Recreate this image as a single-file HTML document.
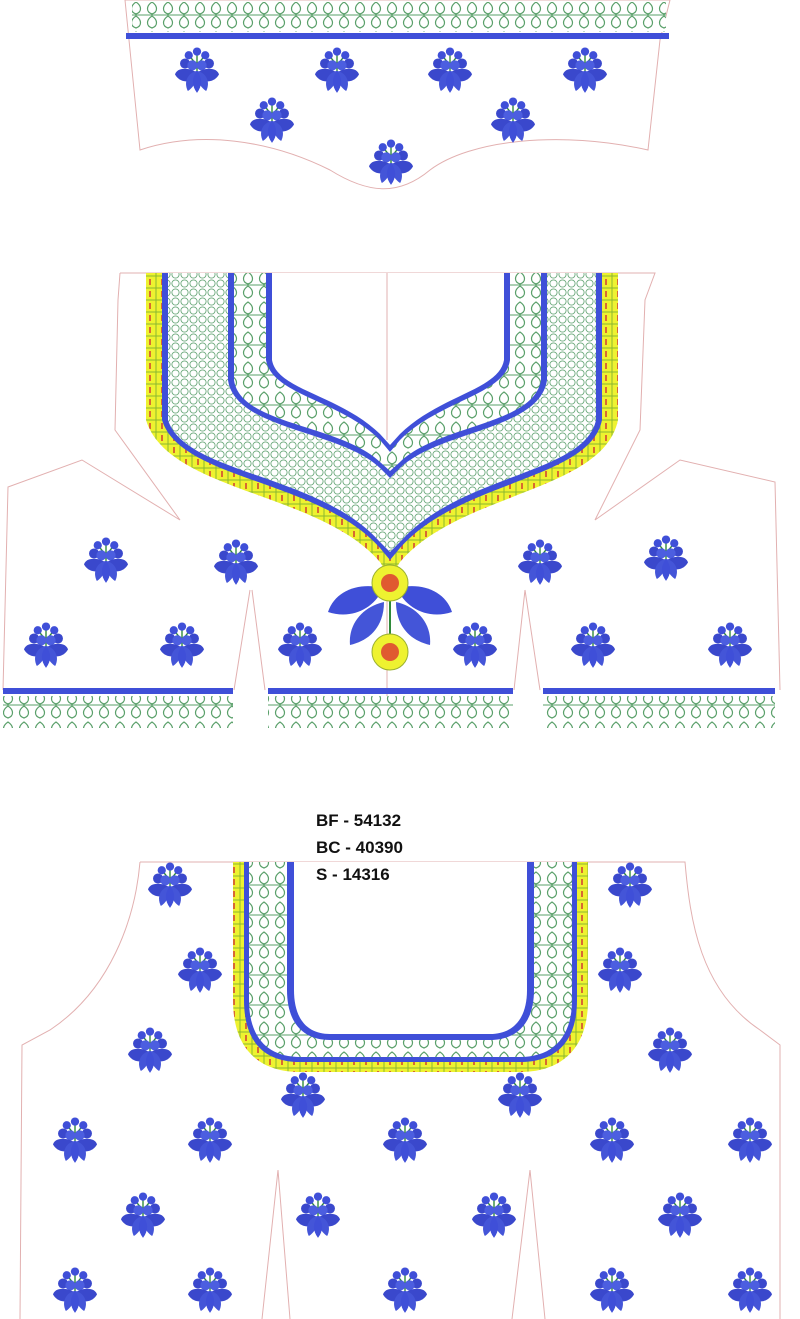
<!DOCTYPE html>
<html><head><meta charset="utf-8"><style>
html,body{margin:0;padding:0;background:#fff;width:800px;height:1319px;overflow:hidden}
svg{display:block}
.t{font-family:"Liberation Sans",sans-serif;font-weight:bold;font-size:17px;fill:#111}
</style></head><body>
<svg width="800" height="1319" viewBox="0 0 800 1319" xmlns="http://www.w3.org/2000/svg">
<defs>
<symbol id="m" viewBox="-24 -26 48 52" overflow="visible">
  <path d="M0 -4 L0 8 M0 -4 L-8 -14 M0 -4 L8 -14 M0 -4 L0 -16" stroke="#2f8a3a" stroke-width="1.5" fill="none"/>
  <circle cx="0" cy="-19" r="4.5" fill="#3f4fd8"/>
  <circle cx="-9" cy="-15" r="4.5" fill="#3f4fd8"/>
  <circle cx="9" cy="-15" r="4.5" fill="#3f4fd8"/>
  <circle cx="-13" cy="-6" r="5.5" fill="#3a48cc"/>
  <circle cx="13" cy="-6" r="5.5" fill="#3a48cc"/>
  <circle cx="-5" cy="-4" r="5.5" fill="#4c5ee0"/>
  <circle cx="5" cy="-4" r="5.5" fill="#4c5ee0"/>
  <path d="M0 4 C-8 -2 -22 -2 -24 6 C-18 16 -8 14 0 12 Z" fill="#3a48cc"/>
  <path d="M0 4 C8 -2 22 -2 24 6 C18 16 8 14 0 12 Z" fill="#3a48cc"/>
  <path d="M0 2 C-10 4 -15 14 -10 24 C-4 20 0 14 0 2 Z" fill="#4455d8"/>
  <path d="M0 2 C10 4 15 14 10 24 C4 20 0 14 0 2 Z" fill="#4455d8"/>
  <path d="M0 2 C-6 10 -6 18 0 26 C6 18 6 10 0 2 Z" fill="#3f4fd8"/>
</symbol>
<pattern id="leaf" width="16" height="30" patternUnits="userSpaceOnUse">
  <rect width="16" height="30" fill="#fff"/>
  <path d="M8 2 C2 6 2 12 8 14 C14 12 14 6 8 2Z M8 16 C2 20 2 26 8 28 C14 26 14 20 8 16Z" fill="none" stroke="#5aa06a" stroke-width="1.2"/>
  <line x1="0" y1="15" x2="16" y2="15" stroke="#5aa06a" stroke-width="1"/>
</pattern>
<pattern id="circ" width="9" height="9" patternUnits="userSpaceOnUse">
  <rect width="9" height="9" fill="#fff"/>
  <circle cx="4.5" cy="4.5" r="3.6" fill="none" stroke="#6aa87a" stroke-width="0.9"/>
</pattern>
<pattern id="scal" width="12" height="12" patternUnits="userSpaceOnUse">
  <rect width="12" height="12" fill="#eef230"/>
  <rect x="5" y="3" width="2" height="6" fill="#d86a30"/>
  <rect width="12" height="12" fill="none" stroke="#8ab830" stroke-width="1"/>
</pattern>
</defs>

<!-- TOP PIECE -->
<path d="M125 0 L670 0 L660 40 L648 150 C560 130 470 140 430 170 C400 195 370 195 330 170 C270 140 200 130 140 150 Z" fill="#fff" stroke="#e2b0b0" stroke-width="1"/>
<rect x="132" y="2" width="534" height="30" fill="url(#leaf)"/>
<rect x="126" y="33" width="543" height="6" fill="#3f4fd8"/>
<g>
<use href="#m" x="175" y="44" width="44" height="50"/>
<use href="#m" x="315" y="44" width="44" height="50"/>
<use href="#m" x="428" y="44" width="44" height="50"/>
<use href="#m" x="563" y="44" width="44" height="50"/>
<use href="#m" x="250" y="94" width="44" height="50"/>
<use href="#m" x="491" y="94" width="44" height="50"/>
<use href="#m" x="369" y="136" width="44" height="50"/>
</g>

<!-- MIDDLE PIECE outlines -->
<g fill="none" stroke="#e2b0b0" stroke-width="1">
<path d="M120 273 L655 273 L645 300 L640 430 L595 520 L680 460 L775 482 L780 690"/>
<path d="M120 273 L118 300 L115 430 L180 520 L82 460 L8 487 L3 690"/>
<path d="M387 273 L387 728"/>
<path d="M250 590 L234 690 M265 690 L252 590"/>
<path d="M525 590 L540 690 M525 590 L514 690"/>
</g>
<path d="M146 273 L618 273 L618 420 C603 492 460 492 400 562 L390 578 L380 562 C320 492 168 492 146 420 Z" fill="url(#scal)"/>
<path d="M162 273 L602 273 L602 420 C590 480 460 480 400 548 L390 560 L380 548 C320 480 180 480 162 420 Z" fill="#3f4fd8"/>
<path d="M168 273 L596 273 L596 420 C585 474 460 474 400 542 L390 552 L380 542 C320 474 185 474 168 420 Z" fill="url(#circ)"/>
<path d="M228 273 L547 273 L547 380 C540 430 440 430 400 468 L390 478 L380 468 C340 430 235 430 228 380 Z" fill="#3f4fd8"/>
<path d="M234 273 L541 273 L541 380 C534 425 440 424 400 462 L390 471 L380 462 C340 424 240 425 234 380 Z" fill="url(#leaf)"/>
<path d="M266 273 L510 273 L510 360 C505 395 440 400 400 440 L390 452 L380 440 C340 400 272 395 266 360 Z" fill="#3f4fd8"/>
<path d="M272 273 L504 273 L504 360 C499 390 440 395 400 434 L390 445 L380 434 C340 395 277 390 272 360 Z" fill="#fff"/>
<line x1="387" y1="273" x2="387" y2="440" stroke="#e2b0b0"/>
<!-- pendant -->
<path d="M383 588 C360 582 335 590 328 612 C352 620 375 608 383 588Z" fill="#3f4fd8"/>
<path d="M397 588 C420 582 445 590 452 612 C428 620 405 608 397 588Z" fill="#3f4fd8"/>
<path d="M384 602 C365 606 348 622 350 645 C372 640 384 624 384 602Z" fill="#4455d8"/>
<path d="M396 602 C415 606 432 622 430 645 C408 640 396 624 396 602Z" fill="#4455d8"/>
<line x1="390" y1="590" x2="390" y2="640" stroke="#2f8a3a" stroke-width="2"/>
<circle cx="390" cy="583" r="18" fill="#eef230" stroke="#9ab030"/>
<circle cx="390" cy="583" r="9" fill="#e05a30"/>
<circle cx="390" cy="652" r="18" fill="#eef230" stroke="#9ab030"/>
<circle cx="390" cy="652" r="9" fill="#e05a30"/>
<rect x="3" y="688" width="230" height="6" fill="#3f4fd8"/>
<rect x="268" y="688" width="245" height="6" fill="#3f4fd8"/>
<rect x="543" y="688" width="232" height="6" fill="#3f4fd8"/>
<rect x="3" y="696" width="230" height="32" fill="url(#leaf)"/>
<rect x="268" y="696" width="245" height="32" fill="url(#leaf)"/>
<rect x="543" y="696" width="232" height="32" fill="url(#leaf)"/>
<g>
<use href="#m" x="84" y="534" width="44" height="50"/>
<use href="#m" x="214" y="536" width="44" height="50"/>
<use href="#m" x="518" y="536" width="44" height="50"/>
<use href="#m" x="644" y="532" width="44" height="50"/>
<use href="#m" x="24" y="619" width="44" height="50"/>
<use href="#m" x="160" y="619" width="44" height="50"/>
<use href="#m" x="278" y="619" width="44" height="50"/>
<use href="#m" x="453" y="619" width="44" height="50"/>
<use href="#m" x="571" y="619" width="44" height="50"/>
<use href="#m" x="708" y="619" width="44" height="50"/>
</g>

<!-- BOTTOM PIECE outlines -->
<g fill="none" stroke="#e2b0b0" stroke-width="1">
<path d="M140 862 L685 862 C690 920 700 990 760 1030 L780 1045 L780 1319"/>
<path d="M140 862 C135 920 110 990 50 1030 L22 1045 L20 1319"/>
<path d="M262 1319 L278 1170 L290 1319"/>
<path d="M512 1319 L530 1170 L545 1319"/>
</g>
<path d="M233 862 L588 862 L588 1000 C588 1050 560 1072 520 1072 L300 1072 C260 1072 233 1050 233 1000 Z" fill="url(#scal)"/>
<path d="M244 862 L577 862 L577 1000 C577 1043 555 1062 520 1062 L300 1062 C265 1062 244 1043 244 1000 Z" fill="#3f4fd8"/>
<path d="M249 862 L572 862 L572 1000 C572 1038 552 1057 520 1057 L300 1057 C268 1057 249 1038 249 1000 Z" fill="url(#leaf)"/>
<path d="M287 862 L534 862 L534 990 C534 1025 515 1040 490 1040 L330 1040 C305 1040 287 1025 287 990 Z" fill="#3f4fd8"/>
<path d="M294 862 L527 862 L527 990 C527 1020 512 1034 490 1034 L330 1034 C308 1034 294 1020 294 990 Z" fill="#fff"/>
<g>
<use href="#m" x="148" y="859" width="44" height="50"/>
<use href="#m" x="608" y="859" width="44" height="50"/>
<use href="#m" x="178" y="944" width="44" height="50"/>
<use href="#m" x="598" y="944" width="44" height="50"/>
<use href="#m" x="128" y="1024" width="44" height="50"/>
<use href="#m" x="648" y="1024" width="44" height="50"/>
<use href="#m" x="281" y="1069" width="44" height="50"/>
<use href="#m" x="498" y="1069" width="44" height="50"/>
<use href="#m" x="53" y="1114" width="44" height="50"/>
<use href="#m" x="188" y="1114" width="44" height="50"/>
<use href="#m" x="383" y="1114" width="44" height="50"/>
<use href="#m" x="590" y="1114" width="44" height="50"/>
<use href="#m" x="728" y="1114" width="44" height="50"/>
<use href="#m" x="121" y="1189" width="44" height="50"/>
<use href="#m" x="296" y="1189" width="44" height="50"/>
<use href="#m" x="472" y="1189" width="44" height="50"/>
<use href="#m" x="658" y="1189" width="44" height="50"/>
<use href="#m" x="53" y="1264" width="44" height="50"/>
<use href="#m" x="188" y="1264" width="44" height="50"/>
<use href="#m" x="383" y="1264" width="44" height="50"/>
<use href="#m" x="590" y="1264" width="44" height="50"/>
<use href="#m" x="728" y="1264" width="44" height="50"/>
</g>

<!-- TEXT on top -->
<text class="t" x="316" y="826">BF -  54132</text>
<text class="t" x="316" y="853">BC -  40390</text>
<text class="t" x="316" y="880">S -  14316</text>
</svg>
</body></html>
